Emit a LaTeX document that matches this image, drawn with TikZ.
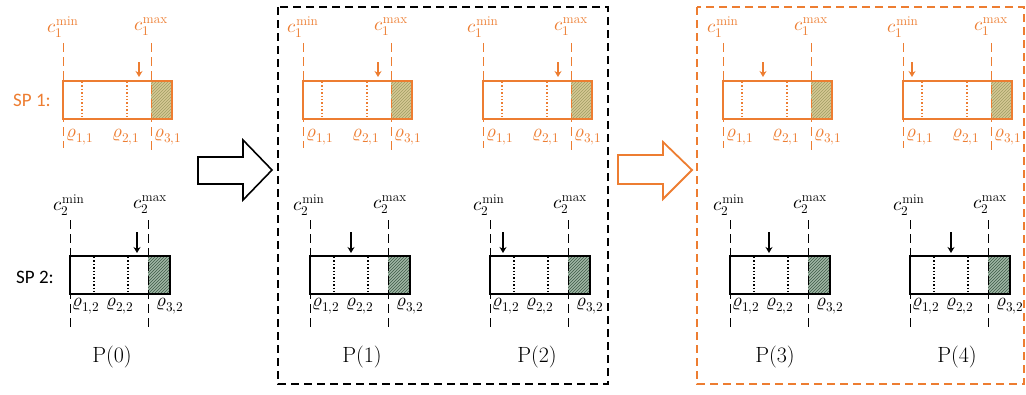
\documentclass[tikz,border=0pt]{standalone}
\usepackage{fontspec}
\usepackage{unicode-math}
\newfontfamily\spfont{Carlito}
\usetikzlibrary{patterns,arrows.meta}
\definecolor{org}{RGB}{237,125,49}
\definecolor{hatchAfill}{RGB}{214,200,148}
\definecolor{hatchAline}{RGB}{160,158,100}
\definecolor{hatchBfill}{RGB}{160,182,165}
\definecolor{hatchBline}{RGB}{60,90,70}
\begin{document}
\begin{tikzpicture}[x=1pt,y=-1pt,
  boxA/.style={draw=org,line width=1.8pt},
  boxB/.style={draw=black,line width=2pt},
  dotA/.style={org,line width=1.4pt,dotted},
  dotB/.style={black,line width=1.4pt,dotted},
  guideA/.style={org,line width=0.9pt,dash pattern=on 9pt off 5pt},
  guideB/.style={black,line width=0.9pt,dash pattern=on 9pt off 5pt},
  arrA/.style={org,line width=1.6pt,-{Stealth[length=6pt,width=7pt]}},
  arrB/.style={black,line width=1.6pt,-{Stealth[length=6pt,width=7pt]}},
  lblA/.style={text=org,font=\fontsize{19}{21}\selectfont,inner sep=0pt},
  lblB/.style={text=black,font=\fontsize{19}{21}\selectfont,inner sep=0pt},
  splbl/.style={font=\spfont\fontsize{19}{22}\selectfont,inner sep=0pt},
  plbl/.style={font=\fontsize{22}{24}\selectfont,inner sep=0pt},
  group/.style={line width=2pt,dash pattern=on 8pt off 5pt}
]
\useasboundingbox (0,0) rectangle (1026,394);

% group frames
\draw[group,black] (278,7) rectangle (608,384);
\draw[group,org] (697,7) rectangle (1024,384);

% big hollow arrows
\draw[black,line width=1.6pt,line join=miter] (198,157) -- (243,157) -- (243,140) -- (272,170) -- (243,200) -- (243,184) -- (198,184) -- cycle;
\draw[org,line width=1.8pt,line join=miter] (618,155) -- (663,155) -- (663,142) -- (692,170) -- (663,199) -- (663,184) -- (618,184) -- cycle;

% row labels
\node[splbl,text=org] (sp1) at (32,100) {SP 1:};
\node[splbl,text=black] (sp2) at (35,277) {SP 2:};

\foreach \i/\ox/\aa/\ab/\px in {0/0/76/67/112, 1/240/75/41/362, 2/420/75/13/537, 3/660/40/39/775, 4/840/9/41/957} {
  \node[plbl] (p\i) at (\px,357) {P(\i)};
  \begin{scope}[xshift=\ox pt]
    % ---- SP1 ----
    \fill[hatchAfill] (151,81) rectangle (172,119);
    \fill[pattern=north east lines,pattern color=hatchAline] (151,81) rectangle (172,119);
    \draw[dotA] (82,82) -- (82,118);
    \draw[dotA] (127,82) -- (127,118);
    \draw[boxA] (63,81) rectangle (172,119);
    \draw[guideA] (63,43) -- (63,148);
    \draw[guideA] (151,43) -- (151,150);
    \node[lblA] (cAmin\i) at (63,27) {$c_1^{\mathrm{min}}$};
    \node[lblA] (cAmax\i) at (151,27) {$c_1^{\mathrm{max}}$};
    \node[lblA] (rA1\i) at (80,137) {$\varrho_{1,1}$};
    \node[lblA] (rA2\i) at (126,137) {$\varrho_{2,1}$};
    \node[lblA] (rA3\i) at (168,137) {$\varrho_{3,1}$};
    \draw[arrA] ({63+\aa},62) -- ({63+\aa},77);
    % ---- SP2 ----
    \fill[hatchBfill] (148,256) rectangle (170,294);
    \fill[pattern=north east lines,pattern color=hatchBline] (148,256) rectangle (170,294);
    \draw[dotB] (94,257) -- (94,293);
    \draw[dotB] (128,257) -- (128,293);
    \draw[boxB] (70,256) rectangle (170,294);
    \draw[guideB] (70,220) -- (70,327);
    \draw[guideB] (148,220) -- (148,327);
    \node[lblB] (cBmin\i) at (69,205) {$c_2^{\mathrm{min}}$};
    \node[lblB] (cBmax\i) at (150,205) {$c_2^{\mathrm{max}}$};
    \node[lblB] (rB1\i) at (86,306) {$\varrho_{1,2}$};
    \node[lblB] (rB2\i) at (120,306) {$\varrho_{2,2}$};
    \node[lblB] (rB3\i) at (170,306) {$\varrho_{3,2}$};
    \draw[arrB] ({70+\ab},232) -- ({70+\ab},253);
  \end{scope}
}
\end{tikzpicture}
\end{document}
